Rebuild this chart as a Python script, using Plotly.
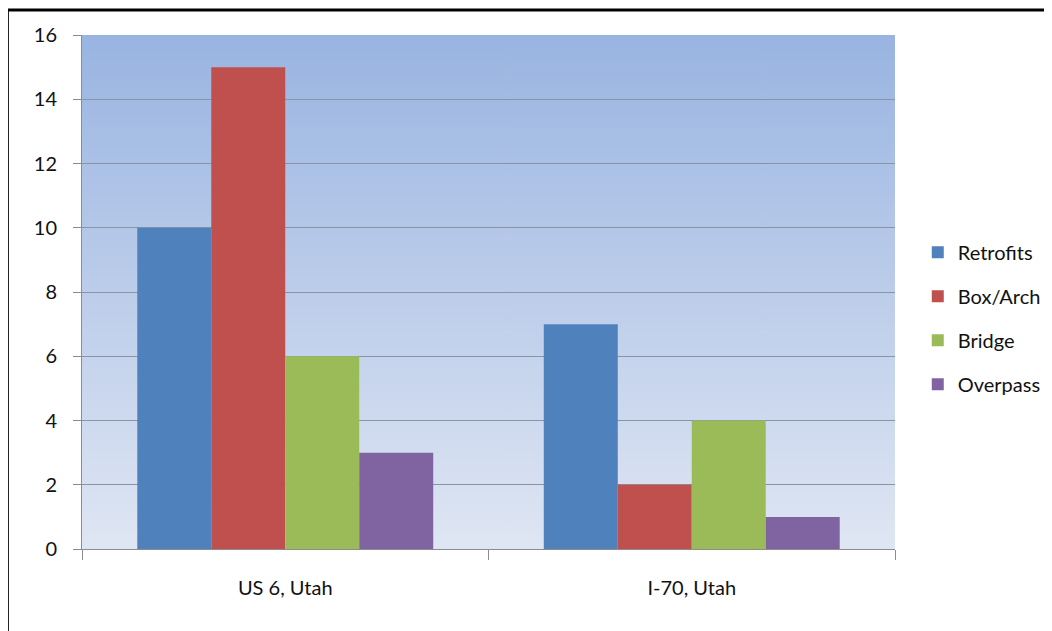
import base64
import plotly.graph_objects as go

categories = ["US 6, Utah", "I-70, Utah"]
series_names = ["Retrofits", "Box/Arch", "Bridge", "Overpass"]
retrofits = [10, 7]
box_arch = [15, 2]
bridge = [6, 4]
overpass = [3, 1]
y_ticks = [0, 2, 4, 6, 8, 10, 12, 14, 16]

values = [retrofits, box_arch, bridge, overpass]
colors = ["#4F81BD", "#C0504D", "#9BBB59", "#8064A2"]

FONT = "Lato, 'Open Sans', sans-serif"

fig = go.Figure()
for name, vals, col in zip(series_names, values, colors):
    fig.add_trace(go.Bar(
        x=categories, y=vals, name=name, legendgroup=name,
        marker=dict(color=col, line=dict(width=0)),
    ))

svg = (
    '<svg xmlns="http://www.w3.org/2000/svg" width="100" height="100" '
    'viewBox="0 0 100 100" preserveAspectRatio="none">'
    '<defs><linearGradient id="g" x1="0" y1="0" x2="0" y2="1">'
    '<stop offset="0" stop-color="#99B4E1"/>'
    '<stop offset="1" stop-color="#DFE6F3"/>'
    '</linearGradient></defs>'
    '<rect x="0" y="0" width="100" height="100" fill="url(#g)"/></svg>'
)
uri = "data:image/svg+xml;base64," + base64.b64encode(svg.encode()).decode()

fig.update_layout(
    width=1052, height=631,
    margin=dict(l=74, r=165, t=27, b=90),
    paper_bgcolor="white",
    plot_bgcolor="rgba(0,0,0,0)",
    barmode="group",
    bargap=0.272,
    bargroupgap=0,
    font=dict(family=FONT, size=20, color="#111"),
    images=[dict(source=uri, xref="paper", yref="paper", x=0, y=1,
                 sizex=1, sizey=1, sizing="stretch", layer="below",
                 xanchor="left", yanchor="top")],
    legend=dict(x=1.028, y=0.449, xanchor="left", yanchor="middle",
                font=dict(size=20), tracegroupgap=15, bgcolor="rgba(0,0,0,0)"),
    showlegend=True,
    shapes=[dict(type="rect", xref="paper", yref="paper",
                 x0=-0.0918, x1=1.3, y0=-0.3, y1=1.0486,
                 line=dict(color="black", width=3), fillcolor="rgba(0,0,0,0)",
                 layer="above")],
)
fig.update_xaxes(
    showline=True, linecolor="#8C8C8C", linewidth=1,
    ticks="outside", tickson="boundaries", ticklen=10, tickcolor="#8C8C8C",
    showgrid=False, ticklabelstandoff=21,
)
fig.update_yaxes(
    range=[0, 16], tickvals=y_ticks,
    showline=True, linecolor="#8C8C8C", linewidth=1,
    ticks="outside", ticklen=8, tickcolor="#8C8C8C",
    showgrid=True, gridcolor="#8A94A6", gridwidth=1,
    zeroline=False, ticklabelstandoff=12,
)

fig.write_html("out.html")
